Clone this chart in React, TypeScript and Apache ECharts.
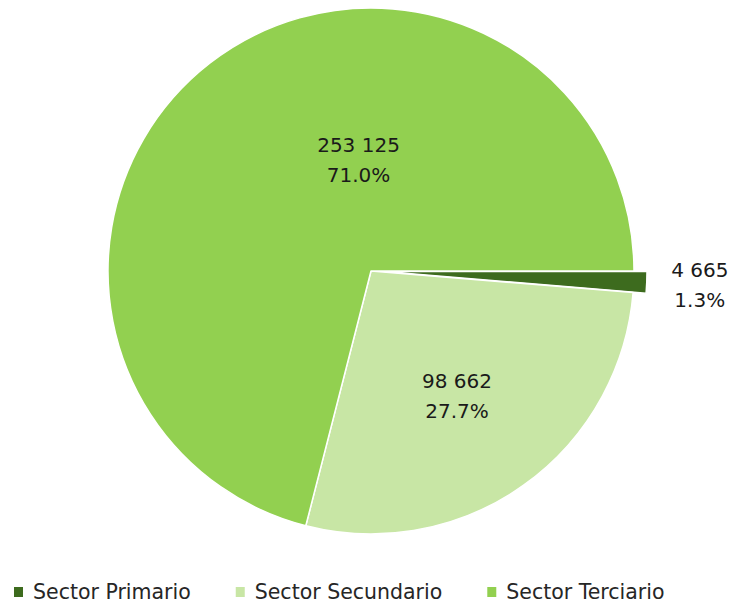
import React, { useEffect, useRef } from "react";
import * as echarts from "echarts";

const categories = ["Sector Primario", "Sector Secundario", "Sector Terciario"];
const values = [4665, 98662, 253125];
const colors = ["#3D6B1E", "#C8E6A5", "#92D050"];
const labelShift = [
  { dx: 40, dy: 2, align: "center" },
  { dx: 8, dy: 15 },
  { dx: 70, dy: -5 },
];

function fmt(n: number): string {
  return String(n).replace(/\B(?=(\d{3})+(?!\d))/g, " ");
}

export default function App() {
  const ref = useRef<HTMLDivElement>(null);
  useEffect(() => {
    if (!ref.current) return;
    const chart = echarts.init(ref.current, null, { renderer: "svg" });
    const total = values.reduce((a, b) => a + b, 0);
    const font = "DejaVu Sans";
    chart.setOption({
      animation: false,
      legend: {
        top: 576,
        left: 7,
        itemWidth: 11,
        itemHeight: 12,
        itemGap: 43,
        icon: "rect",
        textStyle: {
          fontFamily: font,
          fontSize: 20.5,
          lineHeight: 22,
          color: "#262626",
          padding: [0, 0, 0, 4],
        },
        data: categories,
      },
      series: [
        {
          type: "pie",
          center: [371, 271],
          radius: 263,
          startAngle: 0,
          clockwise: true,
          selectedMode: "multiple",
          selectedOffset: 13,
          avoidLabelOverlap: false,
          itemStyle: { borderColor: "#fff", borderWidth: 1.5 },
          emphasis: { disabled: true },
          labelLine: { show: false, length: 8, length2: 0 },
          label: {
            fontFamily: font,
            fontSize: 20,
            lineHeight: 30,
            color: "#1a1a1a",
            align: "center",
            formatter: (p: any) =>
              fmt(p.value) + "\n" + ((p.value / total) * 100).toFixed(1) + "%",
          },
          labelLayout: (p: any) => labelShift[p.dataIndex],
          data: categories.map((name, i) => ({
            name,
            value: values[i],
            selected: i === 0,
            itemStyle: { color: colors[i] },
            label: { position: i === 0 ? "outside" : "inside" },
          })),
        },
      ],
    });
    return () => chart.dispose();
  }, []);
  return (
    <div
      ref={ref}
      style={{ position: "absolute", left: 0, top: 0, width: 733, height: 605 }}
    />
  );
}
